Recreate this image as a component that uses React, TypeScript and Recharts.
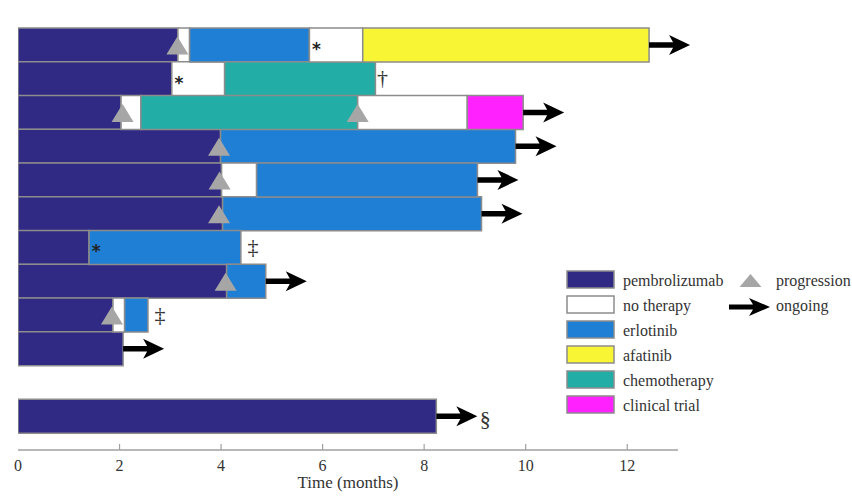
import {
  ComposedChart,
  Bar,
  Cell,
  XAxis,
  YAxis,
  ReferenceDot,
  Legend
} from "recharts"

const patients = ["P1", "P2", "P3", "P4", "P5", "P6", "P7", "P8", "P9", "P10", "P11", "P12"]

const therapies = ["pembrolizumab", "no therapy", "erlotinib", "afatinib", "chemotherapy", "clinical trial"]
const therapyColors = ["#312a85", "#ffffff", "#1f7fd5", "#f8f534", "#22aea6", "#ff22ff"]

// therapy of each segment, in order, per patient
const segmentTherapy: string[][] = [
  ["pembrolizumab", "no therapy", "erlotinib", "no therapy", "afatinib"],
  ["pembrolizumab", "no therapy", "chemotherapy"],
  ["pembrolizumab", "no therapy", "chemotherapy", "no therapy", "clinical trial"],
  ["pembrolizumab", "erlotinib"],
  ["pembrolizumab", "no therapy", "erlotinib"],
  ["pembrolizumab", "erlotinib"],
  ["pembrolizumab", "erlotinib"],
  ["pembrolizumab", "erlotinib"],
  ["pembrolizumab", "no therapy", "erlotinib"],
  ["pembrolizumab"],
  [],
  ["pembrolizumab"]
]

// end of each segment (months)
const segmentEnd: number[][] = [
  [3.15, 3.38, 5.74, 6.79, 12.43],
  [3.03, 4.07, 7.04],
  [2.03, 2.42, 6.69, 8.85, 9.95],
  [3.99, 9.8],
  [4.01, 4.7, 9.05],
  [4.03, 9.13],
  [1.4, 4.39],
  [4.11, 4.88],
  [1.87, 2.1, 2.56],
  [2.07],
  [],
  [8.24]
]

const progressionPatient = ["P1", "P3", "P3", "P4", "P5", "P6", "P8", "P9"]
const progressionTime = [3.14, 2.06, 6.69, 3.96, 3.97, 3.96, 4.09, 1.85]

const ongoingPatient = ["P1", "P3", "P4", "P5", "P6", "P8", "P10", "P12"]

const notePatient = ["P1", "P2", "P7", "P2", "P7", "P9", "P12"]
const noteTime = [5.74, 3.03, 1.4, 7.04, 4.39, 2.56, 8.24]
const noteMark = ["*", "*", "*", "†", "‡", "‡", "§"]

const xTicks = [0, 2, 4, 6, 8, 10, 12]

const AXIS = "#a0a0a0"
const EDGE = "#8c8c8c"
const TEXT = "#333"
const SERIF = "'Liberation Serif', 'Times New Roman', serif"

const colorOf = (t: string) => therapyColors[therapies.indexOf(t)]

const table = patients.map((p, i) => {
  const row: Record<string, any> = { patient: p }
  let prev = 0
  segmentEnd[i].forEach((end, k) => {
    row["s" + k] = +(end - prev).toFixed(3)
    prev = end
  })
  return row
})

const segCount = Math.max(...segmentEnd.map((s) => s.length))

const lastEnd = (p: string) => {
  const s = segmentEnd[patients.indexOf(p)]
  return s[s.length - 1]
}

const BottomTick = (props: any) => {
  const { x, y, payload } = props
  return (
    <g>
      {payload.value > 0 && <line x1={x} x2={x} y1={y} y2={y - 6} stroke={AXIS} strokeWidth={1.2} />}
      <text x={x} y={y + 15} textAnchor="middle" dominantBaseline="central" fill={TEXT} fontSize={16} fontFamily={SERIF}>
        {payload.value}
      </text>
    </g>
  )
}

const TopTick = (props: any) => {
  const { x, y } = props
  return <line x1={x} x2={x} y1={y} y2={y + 5} stroke={AXIS} strokeWidth={1.2} />
}

const triangle = (p: any) => (
  <polygon
    points={`${p.cx},${p.cy - 8.5} ${p.cx - 11},${p.cy + 9.5} ${p.cx + 11},${p.cy + 9.5}`}
    fill="#a6a6a6"
  />
)

const arrowPath = (x: number, y: number, len: number, head: number, hh: number, th: number) =>
  `M${x},${y - th / 2} L${x + len - head + 2},${y - th / 2} L${x + len - head - 2},${y - hh / 2} L${x + len},${y} ` +
  `L${x + len - head - 2},${y + hh / 2} L${x + len - head + 2},${y + th / 2} L${x},${y + th / 2} Z`

const arrow = (p: any) => <path d={arrowPath(p.cx, p.cy, 41, 19, 20, 5.5)} fill="#000" />

const noteStyle: Record<string, { dx: number; dy: number; size: number; font: string; weight: string }> = {
  "*": { dx: 7, dy: 10, size: 17, font: "'DejaVu Sans', sans-serif", weight: "bold" },
  "†": { dx: 7, dy: 6, size: 22, font: SERIF, weight: "normal" },
  "‡": { dx: 12, dy: 7, size: 22, font: SERIF, weight: "normal" },
  "§": { dx: 49, dy: 10, size: 22, font: SERIF, weight: "normal" }
}

const noteShape = (mark: string) => (p: any) => {
  const s = noteStyle[mark]
  return (
    <text x={p.cx + s.dx} y={p.cy + s.dy} textAnchor="middle" fill={mark === "*" ? "#222" : TEXT} fontSize={s.size} fontFamily={s.font} fontWeight={s.weight}>
      {mark}
    </text>
  )
}

const renderLegend = () => (
  <svg width={296} height={160}>
    {therapies.map((t, i) => (
      <g key={t}>
        <rect x={11} y={9 + i * 25} width={47} height={17} fill={therapyColors[i]} stroke={EDGE} strokeWidth={1.5} />
        <text x={67} y={18 + i * 25} dominantBaseline="central" fill={TEXT} fontSize={16} fontFamily={SERIF}>
          {t}
        </text>
      </g>
    ))}
    <polygon points="194.5,12 183.5,25 205.5,25" fill="#a6a6a6" />
    <text x={220} y={18} dominantBaseline="central" fill={TEXT} fontSize={16} fontFamily={SERIF}>
      progression
    </text>
    <path d={arrowPath(173, 45, 41, 19, 18, 5)} fill="#000" />
    <text x={220} y={43} dominantBaseline="central" fill={TEXT} fontSize={16} fontFamily={SERIF}>
      ongoing
    </text>
  </svg>
)

export default function App() {
  return (
    <div style={{ width: 852, height: 496, position: "relative" }}>
      <style>{"body{margin:0}"}</style>
      <ComposedChart
        layout="vertical"
        width={852}
        height={496}
        data={table}
        margin={{ top: 11, right: 174, bottom: 0, left: 18 }}
        barCategoryGap={0}
      >
        <XAxis
          type="number"
          domain={[0, 13]}
          ticks={xTicks}
          allowDataOverflow
          height={46}
          tickSize={0}
          tickMargin={0}
          tickLine={false}
          axisLine={{ stroke: AXIS, strokeWidth: 1.5 }}
          tick={BottomTick}
          label={{ value: "Time (months)", position: "insideBottom", offset: 8, fill: TEXT, fontSize: 17, fontFamily: SERIF }}
        />
        <XAxis
          xAxisId="top"
          orientation="top"
          type="number"
          domain={[0, 13]}
          ticks={xTicks.slice(1)}
          height={0}
          tickSize={0}
          tickMargin={0}
          tickLine={false}
          axisLine={{ stroke: AXIS, strokeWidth: 1.5 }}
          tick={TopTick}
        />
        <YAxis
          type="category"
          dataKey="patient"
          width={0}
          tick={false}
          tickLine={false}
          axisLine={{ stroke: AXIS, strokeWidth: 1.5 }}
          padding={{ top: 17, bottom: 17 }}
        />
        <Legend
          layout="horizontal"
          verticalAlign="middle"
          align="center"
          wrapperStyle={{ left: 556, top: 262, width: 296 }}
          content={renderLegend}
        />
        {Array.from({ length: segCount }, (_, k) => (
          <Bar key={k} dataKey={"s" + k} stackId="t" stroke={EDGE} strokeWidth={1.5} isAnimationActive={false}>
            {patients.map((p, i) => (
              <Cell key={p} fill={segmentTherapy[i][k] ? colorOf(segmentTherapy[i][k]) : "none"} />
            ))}
          </Bar>
        ))}
        {progressionPatient.map((p, i) => (
          <ReferenceDot key={"pr" + i} x={progressionTime[i]} y={p} r={0} shape={triangle} />
        ))}
        {ongoingPatient.map((p, i) => (
          <ReferenceDot key={"on" + i} x={lastEnd(p)} y={p} r={0} shape={arrow} />
        ))}
        {notePatient.map((p, i) => (
          <ReferenceDot key={"nt" + i} x={noteTime[i]} y={p} r={0} shape={noteShape(noteMark[i])} />
        ))}
      </ComposedChart>
    </div>
  )
}
